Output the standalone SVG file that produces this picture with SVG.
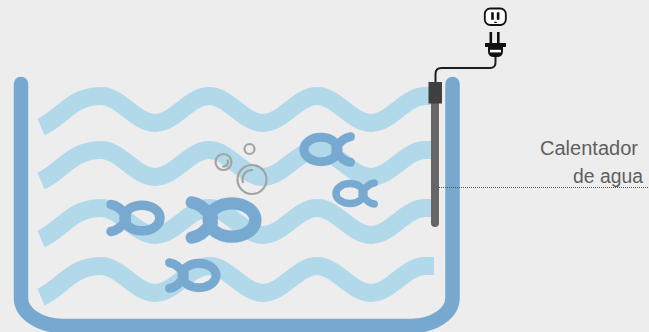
<svg xmlns="http://www.w3.org/2000/svg" width="649" height="332" viewBox="0 0 649 332">
  <style>
    .wave { fill: none; stroke: #b1d9ea; stroke-width: 18; stroke-linecap: butt; }
    .fish { fill: none; stroke: #77a9d1; stroke-width: 9.5; stroke-linecap: round; stroke-linejoin: round; }
    .bubble { fill: none; stroke: #a3a3a3; stroke-width: 2.2; stroke-linecap: round; }
    .label { font-family: "Liberation Sans", Arial, sans-serif; font-size: 20px; fill: #5f5f5f; }
  </style>
  <defs>
    <!-- one fish, facing right, body centred on the origin -->
    <g id="fish-shape" class="fish">
      <ellipse cx="0" cy="0" rx="18" ry="12.8"/>
      <path d="M-31,-13.5 Q-23,-12.5 -15.5,-2 M-31,13.5 Q-23,12.5 -15.5,2"/>
    </g>
    <!-- one wave row, peaks at y=0 -->
    <path id="wave-row" class="wave" d="M41,31 C62,22 71,0 101,0 C120.5,0 135.5,27 155,27 S189.5,0 209,0 S243.5,27 263,27 S297.5,0 317,0 S351.5,27 371,27 S405.5,0 425,0 L434,0"/>
  </defs>

  <rect width="649" height="332" fill="#ededed"/>

  <g id="waves">
    <use href="#wave-row" y="96"/>
    <use href="#wave-row" y="150"/>
    <use href="#wave-row" y="208"/>
    <use href="#wave-row" y="266"/>
  </g>

  <g id="fish-1"><use href="#fish-shape" transform="translate(321,149.5) scale(-0.95,0.95)"/></g>
  <g id="fish-2"><use href="#fish-shape" transform="translate(350,193.5) scale(-0.78,0.78)"/></g>
  <g id="fish-3"><use href="#fish-shape" transform="translate(142,218)"/></g>
  <g id="fish-4"><use href="#fish-shape" transform="translate(232,220) scale(1.3)"/></g>
  <g id="fish-5"><use href="#fish-shape" transform="translate(199,275.5) scale(0.95)"/></g>

  <g id="bubbles">
    <circle class="bubble" cx="249.5" cy="149" r="5"/>
    <circle class="bubble" cx="223.5" cy="162" r="8"/>
    <path class="bubble" d="M227.7,160.5 A4.5,4.5 0 0 1 223.1,166.5"/>
    <circle class="bubble" cx="252" cy="179.5" r="14.5"/>
    <path class="bubble" d="M242.9,182.3 A9.5,9.5 0 0 1 252,170"/>
  </g>

  <g id="tank">
    <path d="M21,84 V298 A42,28 0 0 0 63,326 H411 A41.5,28 0 0 0 452.5,298 V84" fill="none" stroke="#77a9d0" stroke-width="14.5" stroke-linecap="round"/>
  </g>

  <g id="connectors">
    <!-- power cord from heater cap to plug -->
    <path d="M435.5,82 V74 Q435.5,68 441.5,68 H490 Q495.5,68 495.5,62.5 V56" fill="none" stroke="#1e1e1e" stroke-width="2"/>
    <!-- leader line to the label -->
    <line x1="435" y1="187.5" x2="649" y2="187.5" stroke="#555" stroke-width="1" stroke-dasharray="1 1"/>
    <circle cx="435" cy="187.5" r="1.4" fill="#444"/>
  </g>

  <g id="heater">
    <line x1="435" y1="100" x2="435" y2="223" stroke="#666" stroke-width="8" stroke-linecap="round"/>
    <rect x="428.5" y="82" width="13.5" height="21.5" fill="#404040"/>
  </g>

  <g id="plug">
    <rect x="489.5" y="32" width="2.6" height="11.5" fill="#111"/>
    <rect x="497" y="32" width="2.6" height="11.5" fill="#111"/>
    <path d="M485,43 H506 V47 H503 V51 Q503,57 497,57 H494 Q488,57 488,51 V47 H485 Z" fill="#111"/>
    <rect x="490" y="49.8" width="11" height="2.6" fill="#fff"/>
  </g>

  <g id="outlet">
    <rect x="484.8" y="8.5" width="21" height="16.5" rx="5.5" fill="#fff" stroke="#111" stroke-width="1.8"/>
    <rect x="491.2" y="12.3" width="2.6" height="7.5" fill="#111"/>
    <rect x="496.8" y="12.3" width="2.6" height="7.5" fill="#111"/>
    <path d="M494,23 A1.5,1.5 0 0 1 497,23 Z" fill="#111"/>
  </g>

  <g id="label">
    <text class="label" x="540" y="155" textLength="98" lengthAdjust="spacingAndGlyphs">Calentador</text>
    <text class="label" x="573" y="183" textLength="70" lengthAdjust="spacingAndGlyphs">de agua</text>
  </g>
</svg>
